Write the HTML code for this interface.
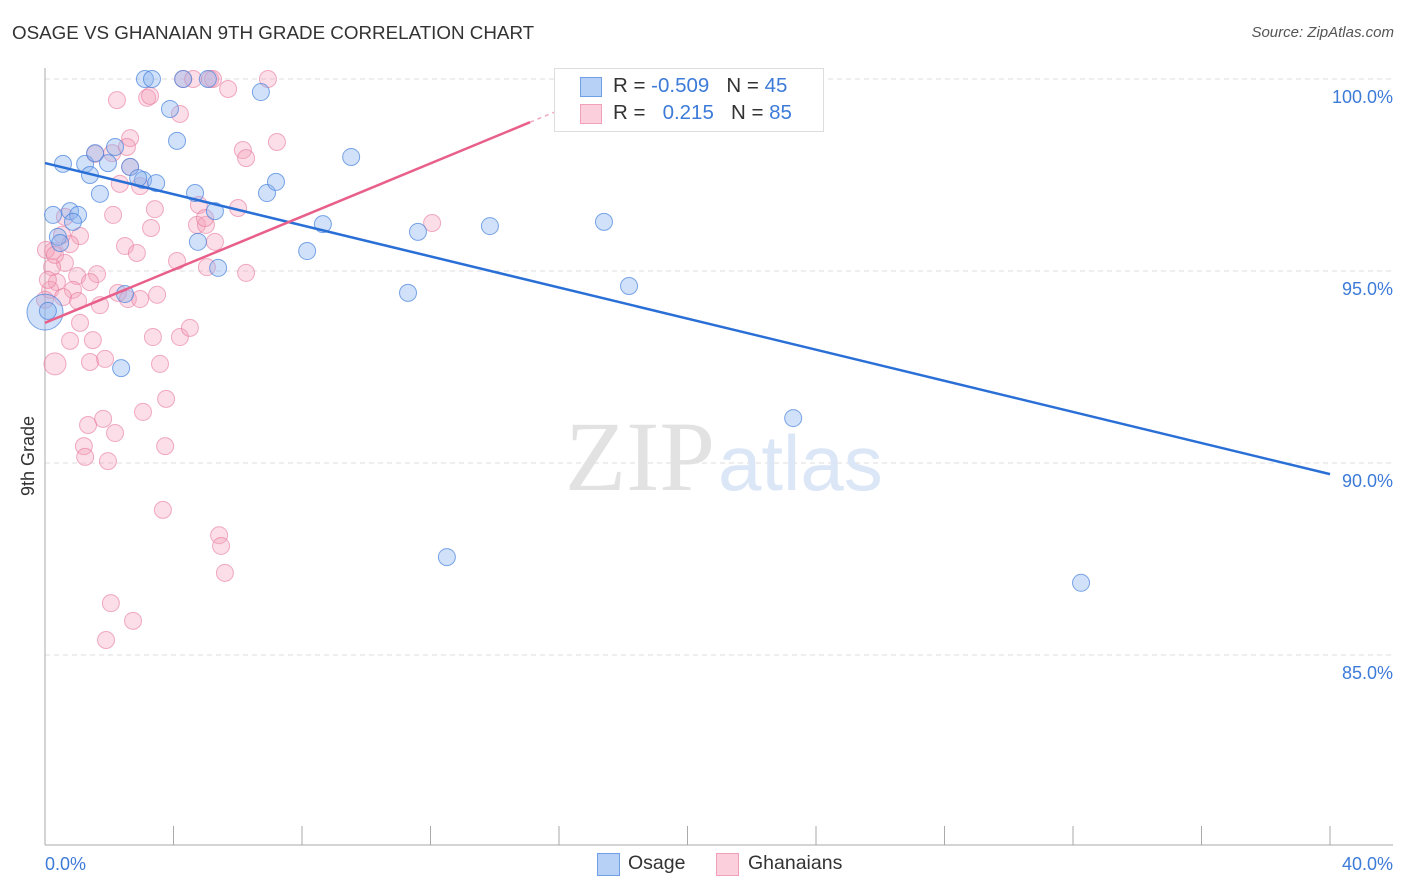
<!DOCTYPE html>
<html><head><meta charset="utf-8"><style>
body{margin:0;background:#fff;font-family:"Liberation Sans",sans-serif;}
#wrap{position:relative;width:1406px;height:892px;overflow:hidden;}
.t{position:absolute;white-space:nowrap;}
</style></head><body>
<div id="wrap">
<div class="t" style="left:12px;top:22px;font-size:18.8px;color:#333;">OSAGE VS GHANAIAN 9TH GRADE CORRELATION CHART</div>
<div class="t" style="right:12px;top:24px;font-size:15px;color:#555;font-style:italic;">Source: ZipAtlas.com</div>
<svg id="chart" width="1406" height="892" style="position:absolute;left:0;top:0"></svg>
</div>
<script>
const xTicks=[0,4,8,12,16,20,24,28,32,36,40];
const yTicks=[100,95,90,85];
const yTickLabels=["100.0%","95.0%","90.0%","85.0%"];
const osageX=[3.11,3.33,4.30,5.07,6.72,3.89,4.11,9.53,0.56,1.25,1.96,2.18,2.65,1.56,1.40,3.05,2.90,3.46,1.71,4.67,6.91,7.19,0.25,0.78,1.03,0.87,5.29,0.40,0.47,4.76,5.39,8.65,8.16,11.61,13.85,17.40,11.30,18.18,2.49,2.37,23.29,12.51,32.25,0,0.09];
const osageY=[100,100,100,100,99.66,99.22,98.39,97.97,97.79,97.79,97.81,98.23,97.71,98.07,97.50,97.37,97.42,97.29,97.01,97.03,97.03,97.32,96.46,96.56,96.46,96.28,96.56,95.89,95.73,95.76,95.08,96.22,95.52,96.02,96.17,96.28,94.43,94.61,94.40,92.47,91.17,87.55,86.88,93.93,93.96];
const ghanaX=[2.24,3.18,4.20,4.30,4.61,5.14,5.23,5.70,6.94,7.22,2.65,2.55,6.16,6.26,1.56,2.65,2.33,2.12,3.42,3.30,6.01,4.79,4.73,5.01,5.29,5.04,2.49,2.86,4.11,6.26,0.62,1.09,0.78,0.25,0.62,0.22,1.00,1.62,1.40,0.37,0.16,0.87,0.56,1.03,1.71,2.27,2.58,2.96,3.49,1.09,0.78,1.49,3.36,4.20,4.51,0.31,1.40,1.87,3.58,3.77,3.05,1.34,1.81,2.18,1.21,1.25,1.96,3.74,3.67,5.42,5.48,5.60,2.05,2.74,1.90,12.05,0.03,0.09,0.31,0.53,0.0,3.27,2.96,2.09,4.98];
const ghanaY=[99.45,99.51,99.09,100,100,100,100,99.74,100,98.36,98.46,98.23,98.15,97.94,98.05,97.71,97.27,96.46,96.61,96.12,96.64,96.72,96.20,96.20,95.76,95.10,95.65,95.47,95.26,94.95,96.41,95.91,95.70,95.52,95.21,95.10,94.87,94.92,94.71,94.71,94.51,94.51,94.32,94.22,94.11,94.43,94.27,94.27,94.38,93.65,93.18,93.20,93.28,93.28,93.52,92.58,92.63,92.71,92.58,91.67,91.33,90.99,91.15,90.78,90.44,90.16,90.05,90.44,88.78,88.12,87.84,87.14,86.35,85.89,85.39,96.25,95.55,94.77,95.42,95.94,94.25,99.56,97.21,98.07,96.38];
const osageTrend=[97.81,-0.2025];
const ghanaTrend=[93.65,0.346];
const ghanaTrendEnd=[15.1,17.0];

const X0=45,X1=1330,Y100=79,PX5=192;
const sx=v=>X0+(v/40)*(X1-X0);
const sy=v=>Y100+(100-v)/5*PX5;
const svg=document.getElementById('chart');
const NS='http://www.w3.org/2000/svg';
function mk(tag,attrs){const e=document.createElementNS(NS,tag);for(const k in attrs)e.setAttribute(k,attrs[k]);svg.appendChild(e);return e;}

yTicks.forEach((v,i)=>{
  const g=mk('line',{x1:X0,x2:1393,y1:sy(v),y2:sy(v),stroke:'#dcdcdc','stroke-dasharray':'5,4','stroke-width':1});
  
  
  const t=mk('text',{x:1393,y:sy(v)+24,'text-anchor':'end','font-size':18,fill:'#3d7bd8','font-family':'Liberation Sans'});
  t.textContent=yTickLabels[i];
  
  
});
const ax=mk('line',{x1:X0,x2:X0,y1:68,y2:845,stroke:'#aaa'});


const bx=mk('line',{x1:X0,x2:1393,y1:845,y2:845,stroke:'#aaa'});


xTicks.forEach(v=>{
  const l=mk('line',{x1:sx(v),x2:sx(v),y1:826,y2:845,stroke:'#aaa'});
  
  
});
const yl=mk('text',{x:0,y:0,'font-size':18,fill:'#333','text-anchor':'middle',transform:'translate(34,456) rotate(-90)','font-family':'Liberation Sans'});
yl.textContent='9th Grade';


const xl0=mk('text',{x:45,y:870,'font-size':18,fill:'#3d7bd8','font-family':'Liberation Sans'});
xl0.textContent='0.0%';


const xl1=mk('text',{x:1393,y:870,'font-size':18,fill:'#3d7bd8','text-anchor':'end','font-family':'Liberation Sans'});
xl1.textContent='40.0%';



// watermark
const w1=mk('text',{x:715,y:490,'font-size':100,fill:'#e2e2e2','text-anchor':'end','font-family':'Liberation Serif'});
w1.textContent='ZIP';


const w2=mk('text',{x:718,y:490,'font-size':78,fill:'#dbe6f6','font-family':'Liberation Sans'});
w2.textContent='atlas';



ghanaX.forEach((x,i)=>{
  const c=mk('circle',{cx:sx(x),cy:sy(ghanaY[i]),r:i===55?11:8.5,fill:'rgba(244,160,186,0.35)',stroke:'rgba(232,120,156,0.6)','stroke-width':1});
  
  
});
osageX.forEach((x,i)=>{
  const c=mk('circle',{cx:sx(x),cy:sy(osageY[i]),r:i===43?18:8.5,fill:'rgba(140,180,240,0.4)',stroke:'rgba(70,130,220,0.7)','stroke-width':1});
  
  
});
const bl=mk('line',{x1:sx(0),y1:sy(osageTrend[0]),x2:sx(40),y2:sy(osageTrend[0]+osageTrend[1]*40),stroke:'#2a6fd6','stroke-width':2.5});


const pl=mk('line',{x1:sx(0),y1:sy(ghanaTrend[0]),x2:sx(ghanaTrendEnd[0]),y2:sy(ghanaTrend[0]+ghanaTrend[1]*ghanaTrendEnd[0]),stroke:'#e8608a','stroke-width':2.5});


const pd=mk('line',{x1:sx(ghanaTrendEnd[0]),y1:sy(ghanaTrend[0]+ghanaTrend[1]*ghanaTrendEnd[0]),x2:sx(ghanaTrendEnd[1]),y2:sy(ghanaTrend[0]+ghanaTrend[1]*ghanaTrendEnd[1]),stroke:'#f0a8c0','stroke-width':1.5,'stroke-dasharray':'4,4'});


</script>
<div class="t" style="left:554px;top:68px;width:268px;height:62px;border:1px solid #ddd;background:#fff;">
  <div class="t" style="left:25px;top:8px;width:20px;height:18px;background:#b7d0f5;border:1px solid #6fa0e6;"></div>
  <div class="t" style="left:58px;top:5px;font-size:20.5px;color:#333;">R = <span style="color:#3d7bd8">-0.509</span>&nbsp;&nbsp;&nbsp;N = <span style="color:#3d7bd8">45</span></div>
  <div class="t" style="left:25px;top:35px;width:20px;height:18px;background:#fbcfdc;border:1px solid #f0a0b8;"></div>
  <div class="t" style="left:58px;top:32px;font-size:20.5px;color:#333;">R = &nbsp;&nbsp;<span style="color:#3d7bd8">0.215</span>&nbsp;&nbsp;&nbsp;N = <span style="color:#3d7bd8">85</span></div>
</div>
<div class="t" style="left:597px;top:853px;width:21px;height:21px;background:#b7d0f5;border:1px solid #6fa0e6;"></div>
<div class="t" style="left:628px;top:852px;font-size:19.5px;color:#333;">Osage</div>
<div class="t" style="left:716px;top:853px;width:21px;height:21px;background:#fbcfdc;border:1px solid #f0a0b8;"></div>
<div class="t" style="left:748px;top:852px;font-size:19.5px;color:#333;">Ghanaians</div>
</body></html>
